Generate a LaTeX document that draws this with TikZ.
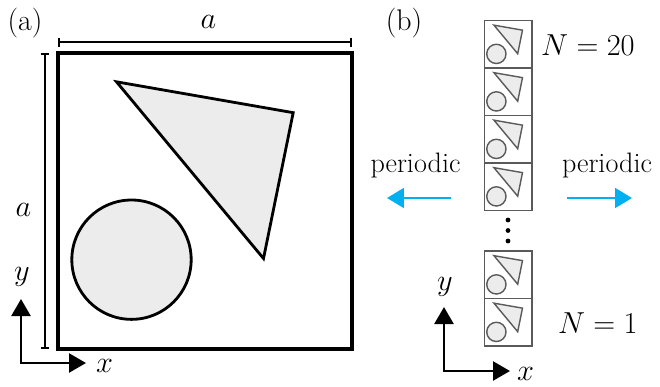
\documentclass[tikz,border=0pt]{standalone}
\usepackage{amsmath}
\usepackage{tikz}
\usetikzlibrary{arrows.meta}
\definecolor{CianPeriodico}{RGB}{0,176,240}
\definecolor{GrisRelleno}{RGB}{236,236,236}
\definecolor{GrisCelda}{RGB}{90,90,90}

\tikzset{
  motivo/.pic={
    \draw[fill=GrisRelleno] (0.199,0.098) -- (0.800,0.203) -- (0.699,0.699) -- cycle;
    \draw[fill=GrisRelleno] (0.250,0.703) circle (0.203);
  },
  celda/.style={draw=GrisCelda,line width=0.8pt,minimum size=0.95cm,inner sep=0pt,outer sep=0pt,anchor=north west},
  eje/.style={line width=1.4pt,{Triangle[length=0.34cm,width=0.38cm]}-{Triangle[length=0.34cm,width=0.38cm]}},
  flecha/.style={line width=1pt,CianPeriodico,-{Triangle[length=0.34cm,width=0.4cm]}},
  cota/.style={line width=1.3pt,{Bar[width=0.18cm]}-{Bar[width=0.18cm]}},
  etq/.style={anchor=base,inner sep=0pt},
}

\begin{document}
\begin{tikzpicture}[x=0.02cm,y=-0.02cm,>=Latex,font=\fontsize{17}{20}\selectfont]
  \useasboundingbox (0,0) rectangle (660,386);
  % (a) celda unidad
  \node[etq] (etqa) at (25,30) {(a)};
  \draw[line width=2pt] (58,53) coordinate (NO) rectangle (352,349) coordinate (SE);
  \pic[scale=294,line width=1.6pt] at (NO) {motivo};
  \coordinate (cotaI) at (58,42);
  \coordinate (cotaD) at (352,42);
  \draw[cota] (cotaI) -- (cotaD);
  \node[etq] (ladoh) at (208.5,28) {$a$};
  \coordinate (cotaA) at (45,53);
  \coordinate (cotaB) at (45,349);
  \draw[cota] (cotaA) -- (cotaB);
  \node[etq] (ladov) at (23.5,216) {$a$};
  \coordinate (Oa) at (21,363);
  \draw[eje] (21,299) -- (Oa) -- (86,363);
  \node[etq] (ya) at (22,280) {$y$};
  \node[etq] (xa) at (104.5,372) {$x$};
  % (b) pila de N celdas
  \node[etq] (etqb) at (404,30) {(b)};
  \foreach \n/\ys in {1/298.5,2/251,17/163,18/115.5,19/68,20/20.5} {
    \node[celda] (c\n) at (484.5,\ys) {};
    \pic[scale=47.5,draw=GrisCelda,line width=0.8pt] at (c\n.north west) {motivo};
  }
  \foreach \yp in {220,230.5,241}
    \fill (508,\yp) circle (2.4);
  \node[anchor=base east,inner sep=0pt] (n20) at (635,55) {$N=20$};
  \node[anchor=base east,inner sep=0pt] (n1) at (638,333) {$N=1$};
  \node[etq,font=\fontsize{16}{19}\selectfont] (perI) at (415.5,172) {periodic};
  \node[etq,font=\fontsize{16}{19}\selectfont] (perD) at (607,172) {periodic};
  \draw[flecha] (451,198) -- (387,198);
  \draw[flecha] (567,198) -- (632,198);
  \coordinate (Ob) at (444,371);
  \draw[eje] (444,307) -- (Ob) -- (510,371);
  \node[etq] (yb) at (445,290) {$y$};
  \node[etq] (xb) at (525.5,380) {$x$};
\end{tikzpicture}
\end{document}
